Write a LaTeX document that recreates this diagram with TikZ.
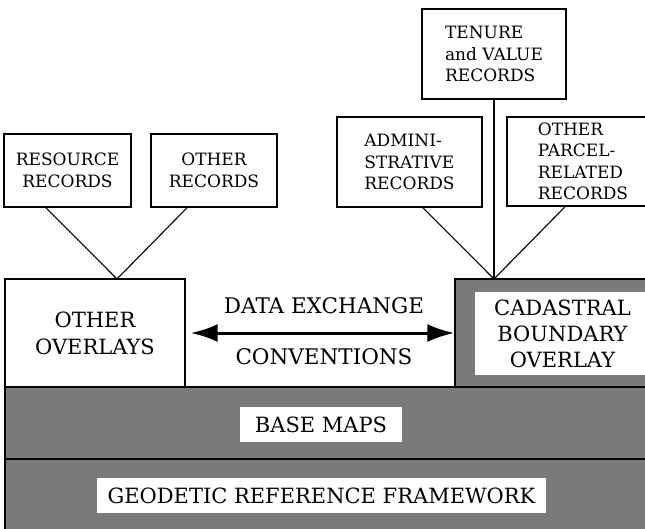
\documentclass[tikz,border=0pt]{standalone}
\usepackage{fontspec}
\setmainfont{DejaVu Serif}
\usetikzlibrary{arrows.meta}

\tikzset{
  recbox/.style={draw,line width=1.6pt,fill=white,inner sep=0pt,align=left,
    font=\fontsize{17}{21.5}\selectfont},
  overbox/.style={draw,line width=1.4pt,fill=white,inner sep=0pt,align=center,
    font=\fontsize{21}{27}\selectfont},
  layer/.style={fill=black!52,draw=black,line width=1.3pt},
  inset/.style={fill=white,inner sep=0pt,align=center,font=\fontsize{21}{26}\selectfont},
  label/.style={inner sep=0pt,font=\fontsize{21.5}{26}\selectfont},
  link/.style={line width=1.1pt},
  exch/.style={line width=3pt,{Latex[length=27pt,width=18pt]}-{Latex[length=27pt,width=18pt]}},
}

\begin{document}
\begin{tikzpicture}[x=1pt,y=-1pt]
\clip (0,0) rectangle (645,529);

% the layers
\draw[layer] (5,459) rectangle (665,545);
\draw[layer] (5,387) rectangle (665,459);
\node[layer,minimum width=210pt,minimum height=108pt] (cad) at (560,333) {};
\node[inset,minimum width=175pt,minimum height=83pt] (cadtext) at (562.5,333.5)
  {CADASTRAL\\BOUNDARY\\OVERLAY};
\node[inset,minimum width=162pt,minimum height=35pt] (base) at (321,424.5) {BASE MAPS};
\node[inset,minimum width=449pt,minimum height=35pt] (geod) at (321.5,495.5)
  {GEODETIC REFERENCE FRAMEWORK};
\node[overbox,minimum width=180pt,minimum height=108pt] (over) at (95,333)
  {OTHER\\OVERLAYS};

\node[label] (data) at (324,306) {DATA EXCHANGE};
\node[label] (conv) at (324,357) {CONVENTIONS};
\draw[exch] ([xshift=5pt]over.east) -- (cad.west);

% the records
\node[recbox,align=center,minimum width=127pt,minimum height=73pt] (res) at (67.5,170.5)
  {RESOURCE\\RECORDS};
\node[recbox,align=center,minimum width=126pt,minimum height=73pt] (othrec) at (214,170.5)
  {OTHER\\RECORDS};
\node[recbox,minimum width=145pt,minimum height=90pt] (admin) at (409.5,162)
  {ADMINI-\\STRATIVE\\RECORDS};
\node[recbox,minimum width=144pt,minimum height=90pt] (tenure) at (494,54)
  {TENURE\\and VALUE\\RECORDS};
\node[recbox,minimum width=152pt,minimum height=89pt] (parcel) at (583,161.5)
  {OTHER\\PARCEL-\\RELATED\\RECORDS};

\coordinate (jl) at (117,279);
\coordinate (jr) at (494,279);
\draw[link] ([xshift=-21.5pt]res.south) -- (jl);
\draw[link] ([xshift=-27pt]othrec.south) -- (jl);
\draw[link] ([xshift=13.5pt]admin.south) -- (jr);
\draw[link] ([xshift=-18pt]parcel.south) -- (jr);
\draw[link] (tenure.south) -- (jr);
\end{tikzpicture}
\end{document}
